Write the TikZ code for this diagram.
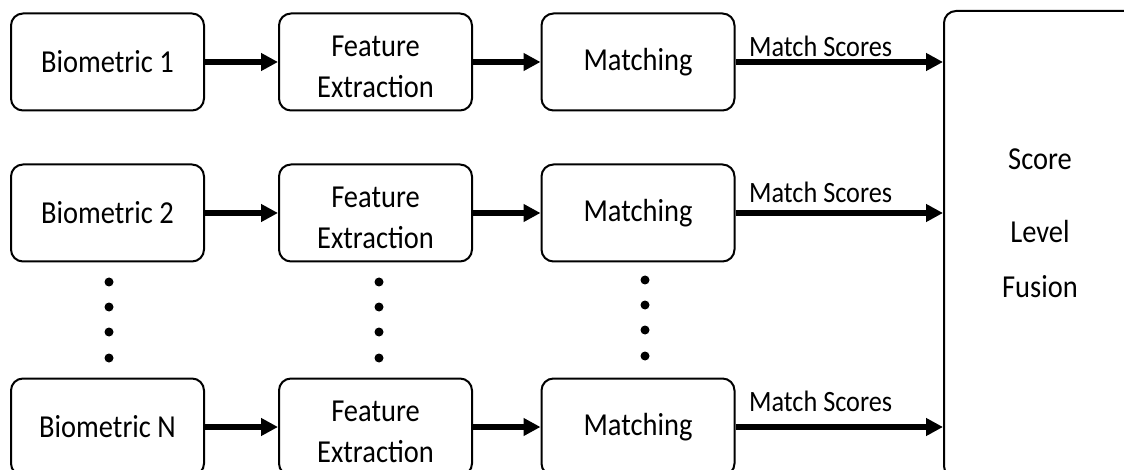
\documentclass[tikz,border=0pt]{standalone}
\usepackage{fontspec}
\setmainfont{Carlito}[FakeStretch=0.89]
\usetikzlibrary{arrows.meta}
\begin{document}
\begin{tikzpicture}[x=1pt,y=-1pt,
  box/.style={draw, line width=2pt, rounded corners=12pt, minimum width=193pt, minimum height=97pt, inner sep=0pt, font=\fontsize{32}{41}\selectfont, align=center},
  fbox/.style={box, text height=71pt, text depth=0pt},
  conn/.style={line width=5.5pt, -{Triangle[length=17pt,width=17pt]}},
  lbl/.style={anchor=base west, font=\fontsize{29.5}{34}\selectfont, inner sep=0pt},
  ftxt/.style={anchor=base, font=\fontsize{32}{38}\selectfont, inner sep=0pt},
  dot/.style={circle, fill, inner sep=0pt, minimum size=9pt}]
\useasboundingbox (0,0) rectangle (1124,470);
\clip (0,0) rectangle (1124,470);
% row 1
\node[box] (b1) at (107.5,62) {Biometric 1};
\node[fbox] (f1) at (375.5,62) {Feature\\Extraction};
\node[box] (m1) at (638,62) {Matching};
% row 2
\node[box] (b2) at (107.5,213) {Biometric 2};
\node[fbox] (f2) at (375.5,213) {Feature\\Extraction};
\node[box] (m2) at (638,213) {Matching};
% row 3
\node[box] (b3) at (107.5,427) {Biometric N};
\node[fbox] (f3) at (375.5,427) {Feature\\Extraction};
\node[box] (m3) at (638,427) {Matching};
% fusion
\node[draw, line width=2pt, rounded corners=12pt, minimum width=193pt, minimum height=467pt, inner sep=0pt] (fus) at (1040.5,244.5) {};
\node[ftxt] (s1) at (1040,170) {Score};
\node[ftxt] (s2) at (1040,243) {Level};
\node[ftxt] (s3) at (1040,298) {Fusion};
% arrows
\foreach \r in {1,2,3}{
  \draw[conn] (b\r) -- (f\r);
  \draw[conn] (f\r) -- (m\r);
  \draw[conn] (m\r) -- (m\r -| fus.west);
}
% labels
\node[lbl] (l1) at (749,57) {Match Scores};
\node[lbl] (l2) at (749,203) {Match Scores};
\node[lbl] (l3) at (749,411) {Match Scores};
% dots
\foreach \y [count=\i] in {282,307,332,358}{
  \node[dot] (da\i) at (109,\y) {};
  \node[dot] (db\i) at (379,\y) {};
}
\foreach \y [count=\i] in {280,305,330,356}{
  \node[dot] (dc\i) at (645,\y) {};
}
\end{tikzpicture}
\end{document}
